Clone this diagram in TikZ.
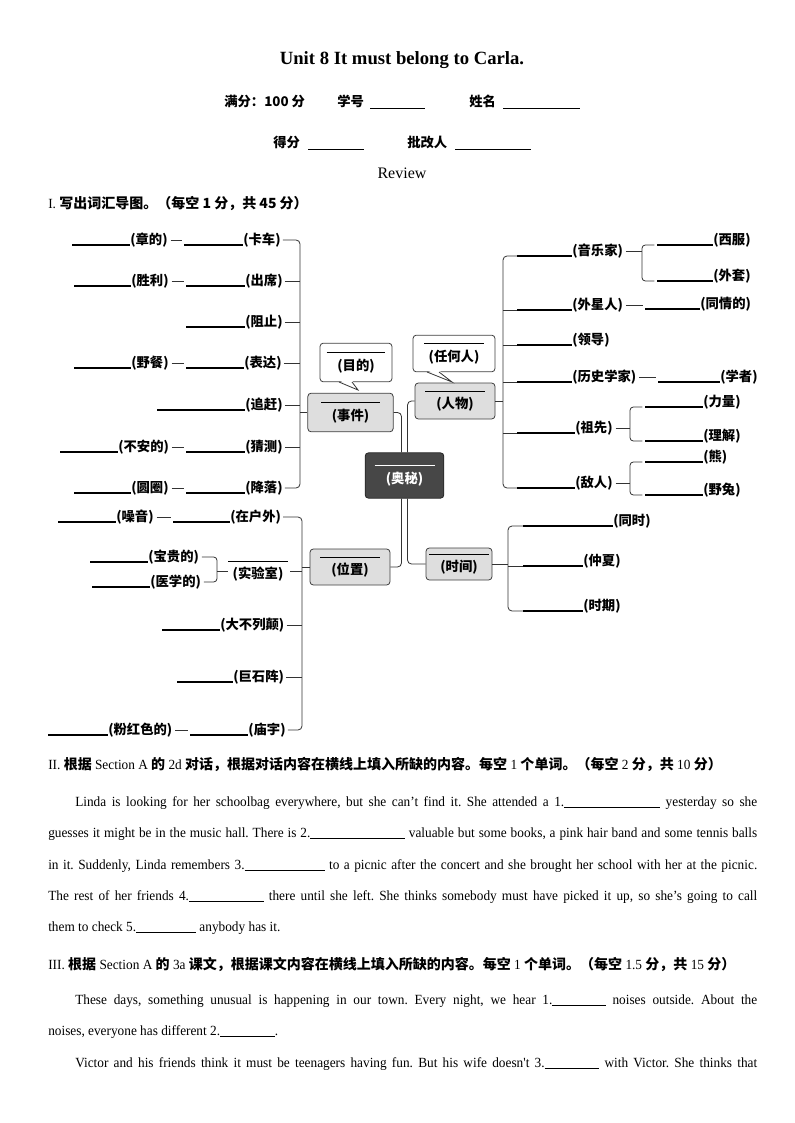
\documentclass[tikz,border=0pt]{standalone}
\usepackage{fontspec}
\setmainfont{Liberation Serif}
\newfontfamily\cjk{Noto Sans CJK SC}
\newfontfamily\bodyf[FakeStretch=0.95]{Liberation Serif}
\usetikzlibrary{calc}
\frenchspacing
\newcommand\zh[1]{{\cjk\bfseries #1}}
\newcommand\gap[1]{\rule[-1.6pt]{#1}{0.6pt}}
\tikzset{
  lab/.style={inner sep=0pt, font=\cjk\bfseries\fontsize{10}{12}\selectfont},
  hd/.style={inner sep=0pt, font=\cjk\bfseries\fontsize{10}{12}\selectfont},
  bl/.style={line width=0.9pt, black},
  hl/.style={line width=0.6pt, black},
  conn/.style={line width=0.6pt, black!80},
  box/.style={draw=black!75, fill=black!13, rounded corners=2.5pt, line width=0.6pt,
    align=center, inner sep=1pt, font=\cjk\bfseries\fontsize{10}{12}\selectfont},
  hub/.style={box, fill=black!72, draw=black!85, text=white},
  bub/.style={box, fill=white},
  para/.style={inner sep=0pt, anchor=base west, font=\bodyf\fontsize{10.5}{12}\selectfont},
  sect/.style={inner sep=0pt, anchor=base west, font=\bodyf\fontsize{10.5}{12}\selectfont}
}
% name, blank start x, label start x, y, text
\newcommand\itm[5]{%
  \node[lab,anchor=west] (#1) at (#3,#4) {#5};
  \draw[bl] (#2,#4) ++(0,5) coordinate (#1b) -- ([yshift=-3.75pt]#1.west);}
\begin{document}
\begin{tikzpicture}[x=0.75pt,y=-0.75pt]
\fill[white] (0,0) rectangle (794,1123);
\useasboundingbox (0,0) rectangle (794,1123);

% ---------- heading ----------
\node[font=\bfseries\fontsize{14}{16}\selectfont] (title) at (402,60) {Unit 8 It must belong to Carla.};
\node[hd,anchor=west] (hA) at (224,101) {满分：100 分};
\node[hd,anchor=west] (hB) at (337,101) {学号};
\draw[hl] (370,108) -- (425,108);
\node[hd,anchor=west] (hC) at (469,101) {姓名};
\draw[hl] (503,108) -- (580,108);
\node[hd,anchor=west] (hD) at (273,142) {得分};
\draw[hl] (308,149) -- (364,149);
\node[hd,anchor=west] (hE) at (407,142) {批改人};
\draw[hl] (455,149) -- (531,149);
\node[font=\fontsize{12}{14}\selectfont] (rev) at (402,173) {Review};
\node[sect] (s1) at (48,209) {I.\ \zh{写出词汇导图。（每空 1 分，共 45 分）}};

% ---------- central structure ----------
\node[hub, minimum width=59pt, minimum height=34pt] (ctr) at (404.5,475.5) {\rule{45pt}{0.6pt}\\[1pt](奥秘)};
\node[box, minimum width=64pt, minimum height=29pt] (ev) at (350.5,412.5) {\rule{44pt}{0.6pt}\\[1pt](事件)};
\node[box, minimum width=60pt, minimum height=27pt] (pp) at (455,401) {\rule{45pt}{0.6pt}\\[1pt](人物)};
\node[box, minimum width=60pt, minimum height=27pt] (pos) at (350,567) {\rule{45pt}{0.6pt}\\[1pt](位置)};
\node[box, minimum width=49.5pt, minimum height=24pt] (tm) at (459,564) {\rule{45pt}{0.6pt}\\[1pt](时间)};
\node[bub, minimum width=54pt, minimum height=29pt] (bu1) at (356,362.5) {\rule{44pt}{0.6pt}\\[1pt](目的)};
\node[bub, minimum width=61.5pt, minimum height=27.5pt] (bu2) at (454,353.5) {\rule{45pt}{0.6pt}\\[1pt](任何人)};
% bubble tails
\fill[white] (339,380.2) -- (358,390) -- (352,380.2) -- cycle;
\draw[conn] (339,382) -- (358,390) -- (352,382);
\fill[white] (427,370.2) -- (452,382) -- (439,370.2) -- cycle;
\draw[conn] (427,372) -- (452,382) -- (439,372);

\draw[conn, rounded corners=3pt] ([xshift=-2.25pt]ctr.north) |- (ev.east);
\draw[conn, rounded corners=3pt] ([xshift=2.25pt]ctr.north) |- (pp.west);
\draw[conn, rounded corners=3pt] ([xshift=-2.25pt]ctr.south) |- (pos.east);
\draw[conn, rounded corners=3pt] ([xshift=2.25pt]ctr.south) |- (tm.west);

% ---------- events (upper left) ----------
\itm{e1}{184}{243}{240}{(卡车)}
\itm{e2}{186}{245}{281}{(出席)}
\itm{e3}{186}{245}{322}{(阻止)}
\itm{e4}{186}{244}{363}{(表达)}
\itm{e5}{157}{245}{405}{(追赶)}
\itm{e6}{186}{245}{447}{(猜测)}
\itm{e7}{186}{245}{488}{(降落)}
\itm{f1}{72}{130}{240}{(章的)}
\itm{f2}{74}{131}{281}{(胜利)}
\itm{f4}{74}{131}{363}{(野餐)}
\itm{f6}{60}{118}{447}{(不安的)}
\itm{f7}{74}{131}{488}{(圆圈)}
\foreach \a/\b in {f1/e1,f2/e2,f4/e4,f6/e6,f7/e7}
  \draw[conn] ([xshift=2pt]\a.east) -- ([xshift=-1.5pt]\b b |- \a.east);
\coordinate (spE) at (300,0);
\draw[conn, rounded corners=3pt] ([xshift=1.5pt]e1.east) -| (spE |- e7.east) -- ([xshift=1.5pt]e7.east);
\foreach \n in {e2,e3,e4,e5,e6}
  \draw[conn] ([xshift=1.5pt]\n.east) -- (spE |- \n.east);
\draw[conn] (ev.west) -- (spE |- ev.west);

% ---------- position (lower left) ----------
\itm{g1}{173}{230}{517}{(在户外)}
\itm{h1}{58}{116}{517}{(噪音)}
\itm{h2a}{90}{148}{557}{(宝贵的)}
\itm{h2b}{92}{150}{582}{(医学的)}
\node[lab, align=center] (g2) at (258,571) {\rule{45pt}{0.6pt}\\[1pt](实验室)};
\itm{g3}{162}{220}{625}{(大不列颠)}
\itm{g4}{177}{233}{677}{(巨石阵)}
\itm{g5}{190}{248}{730}{(庙宇)}
\itm{h5}{48}{108}{730}{(粉红色的)}
\draw[conn] ([xshift=2pt]h1.east) -- ([xshift=-1.5pt]g1b |- h1.east);
\draw[conn] ([xshift=2pt]h5.east) -- ([xshift=-1.5pt]g5b |- h5.east);
\coordinate (bx2) at (217,0);
\draw[conn, rounded corners=2.5pt] ([xshift=2pt]h2a.east) -| (bx2 |- h2b.east) -- ([xshift=2pt]h2b.east);
\draw[conn] (bx2 |- g2.west) -- (g2.west);
\coordinate (spL) at (302,0);
\draw[conn, rounded corners=3pt] ([xshift=1.5pt]g1.east) -| (spL |- g5.east) -- ([xshift=1.5pt]g5.east);
\foreach \n in {g3,g4}
  \draw[conn] ([xshift=1.5pt]\n.east) -- (spL |- \n.east);
\draw[conn] ([xshift=1.5pt]g2.east) -- (spL |- g2.east);
\draw[conn] (pos.west) -- (spL |- pos.west);

% ---------- people (right) ----------
\itm{p1}{517}{572}{251}{(音乐家)}
\itm{qa}{657}{713}{240}{(西服)}
\itm{qb}{657}{713}{276}{(外套)}
\itm{p2}{517}{572}{305}{(外星人)}
\itm{r2}{645}{700}{304}{(同情的)}
\itm{p3}{517}{572}{340}{(领导)}
\itm{p4}{517}{572}{377}{(历史学家)}
\itm{r4}{658}{720}{377}{(学者)}
\itm{p5}{517}{575}{428}{(祖先)}
\itm{qc}{645}{703}{402}{(力量)}
\itm{qd}{645}{703}{436}{(理解)}
\itm{p6}{517}{575}{483}{(敌人)}
\itm{qe}{645}{703}{457}{(熊)}
\itm{qf}{645}{703}{490}{(野兔)}
\draw[conn] ([xshift=2pt]p2.east) -- ([xshift=-1.5pt]r2b |- p2.east);
\draw[conn] ([xshift=2pt]p4.east) -- ([xshift=-1.5pt]r4b |- p4.east);
\coordinate (bxA) at (642,0);
\coordinate (bxB) at (630,0);
\draw[conn] ([xshift=2pt]p1.east) -- (bxA |- p1.east);
\draw[conn, rounded corners=2.5pt] ([xshift=-2pt]qab) -| (bxA |- qbb) -- ([xshift=-2pt]qbb);
\draw[conn] ([xshift=2pt]p5.east) -- (bxB |- p5.east);
\draw[conn, rounded corners=2.5pt] ([xshift=-2pt]qcb) -| (bxB |- qdb) -- ([xshift=-2pt]qdb);
\draw[conn] ([xshift=2pt]p6.east) -- (bxB |- p6.east);
\draw[conn, rounded corners=2.5pt] ([xshift=-2pt]qeb) -| (bxB |- qfb) -- ([xshift=-2pt]qfb);
\coordinate (spP) at (503,0);
\draw[conn, rounded corners=3pt] (p1b) -| (spP |- p6b) -- (p6b);
\foreach \n in {p2,p3,p4,p5}
  \draw[conn] (spP |- \n b) -- (\n b);
\draw[conn] (pp.east) -- (spP |- pp.east);

% ---------- time (lower right) ----------
\itm{t1}{523}{613}{521}{(同时)}
\itm{t2}{523}{583}{561}{(仲夏)}
\itm{t3}{523}{583}{606}{(时期)}
\coordinate (spT) at (508,0);
\draw[conn, rounded corners=3pt] (t1b) -| (spT |- t3b) -- (t3b);
\draw[conn] (tm.east) -- (spT |- tm.east);
\draw[conn] (spT |- t2b) -- (t2b);

% ---------- section II ----------
\node[sect] (s2) at (48,769) {II.\ \zh{根据} Section A \zh{的} 2d \zh{对话，根据对话内容在横线上填入所缺的内容。每空} 1 \zh{个单词。（每空} 2 \zh{分，共} 10 \zh{分）}};
\node[para] (a1) at (75,806) {\makebox[511.5pt][s]{Linda is looking for her schoolbag everywhere, but she can’t find it. She attended a 1.\gap{72pt} yesterday so she}};
\node[para] (a2) at (48,837) {\makebox[531.75pt][s]{guesses it might be in the music hall. There is 2.\gap{71pt} valuable but some books, a pink hair band and some tennis balls}};
\node[para] (a3) at (48,869) {\makebox[531.75pt][s]{in it. Suddenly, Linda remembers 3.\gap{60pt} to a picnic after the concert and she brought her school with her at the picnic.}};
\node[para] (a4) at (48,900) {\makebox[531.75pt][s]{The rest of her friends 4.\gap{56pt} there until she left. She thinks somebody must have picked it up, so she’s going to call}};
\node[para] (a5) at (48,931) {them to check 5.\gap{45pt} anybody has it.};

% ---------- section III ----------
\node[sect] (s3) at (48,969) {III.\ \zh{根据} Section A \zh{的} 3a \zh{课文，根据课文内容在横线上填入所缺的内容。每空} 1 \zh{个单词。（每空} 1.5 \zh{分，共} 15 \zh{分）}};
\node[para] (b1) at (75,1004) {\makebox[511.5pt][s]{These days, something unusual is happening in our town. Every night, we hear 1.\gap{40pt} noises outside. About the}};
\node[para] (b2) at (48,1035) {noises, everyone has different 2.\gap{41pt}.};
\node[para] (b3) at (75,1067) {\makebox[511.5pt][s]{Victor and his friends think it must be teenagers having fun. But his wife doesn't 3.\gap{41pt} with Victor. She thinks that}};
\end{tikzpicture}
\end{document}
